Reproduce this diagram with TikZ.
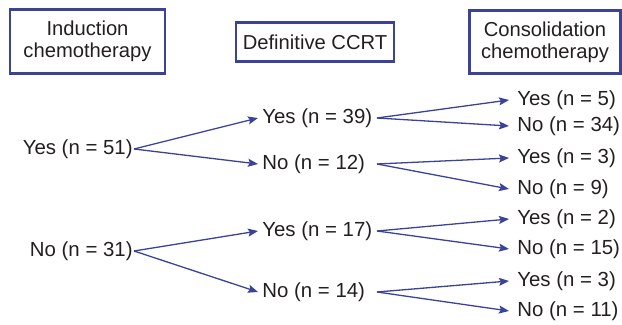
\documentclass[tikz,border=0pt]{standalone}
\usepackage{fontspec}
\setmainfont{Liberation Sans}
\usetikzlibrary{arrows.meta,positioning}
\definecolor{treeblue}{RGB}{58,67,152}
\definecolor{txtgray}{RGB}{35,31,32}
\tikzset{
	headbox/.style={draw=treeblue,line width=1.1pt,align=center,text=txtgray,font=\fontsize{10.1}{11}\selectfont},
	grp/.style={text=txtgray,font=\fontsize{10.2}{11}\selectfont,inner xsep=0.5pt,inner ysep=0pt},
	midgrp/.style={grp,anchor=west,inner xsep=2pt},
	endgrp/.style={grp,anchor=west,inner xsep=4pt},
	diredge/.style={->,>={Stealth[width=4pt,length=5pt,inset=0.9pt]},draw=treeblue,line width=0.65pt}
}

\begin{document}
\begin{tikzpicture}[x=0.5pt,y=-0.5pt]
	\useasboundingbox (0,0) rectangle (622,325);
	%%%headers
	\node[headbox,minimum width=77.5pt,minimum height=32pt] (ind) at (87.5,41.5) {Induction\\chemotherapy};
	\node[headbox,minimum width=79pt,minimum height=19.5pt] (ccrt) at (315,42) {Definitive CCRT};
	\node[headbox,minimum width=75.5pt,minimum height=31.5pt] (cons) at (545,42) {Consolidation\\chemotherapy};
	
	%%%induction
	\node[grp,anchor=east] (y1) at (134,149) {Yes (n = 51)};
	\node[grp,anchor=east] (n1) at (134,251) {No (n = 31)};
	
	%%%CCRT
	\node[midgrp] (y1y) at (258,118) {Yes (n = 39)};
	\node[midgrp] (y1n) at (258,164) {No (n = 12)};
	\node[midgrp] (n1y) at (258,231) {Yes (n = 17)};
	\node[midgrp] (n1n) at (258,292) {No (n = 14)};
	
	%%%consolidation
	\node[endgrp] (y1yy) at (509,100) {Yes (n = 5)};
	\node[endgrp] (y1yn) at (509,126) {No (n = 34)};
	\node[endgrp] (y1ny) at (509,158) {Yes (n = 3)};
	\node[endgrp] (y1nn) at (509,189) {No (n = 9)};
	\node[endgrp] (n1yy) at (509,219) {Yes (n = 2)};
	\node[endgrp] (n1yn) at (509,249) {No (n = 15)};
	\node[endgrp] (n1ny) at (509,281) {Yes (n = 3)};
	\node[endgrp] (n1nn) at (509,311) {No (n = 11)};
	
	\draw[diredge] (y1.east) -- (y1y.west);
	\draw[diredge] (y1.east) -- (y1n.west);
	\draw[diredge] (n1.east) -- (n1y.west);
	\draw[diredge] (n1.east) -- (n1n.west);
	
	\foreach \a in {y1y,y1n,n1y,n1n}{
		\draw[diredge] ([xshift=59.5pt]\a.west) -- (\a y.west);
		\draw[diredge] ([xshift=59.5pt]\a.west) -- (\a n.west);
	}
\end{tikzpicture}
\end{document}
